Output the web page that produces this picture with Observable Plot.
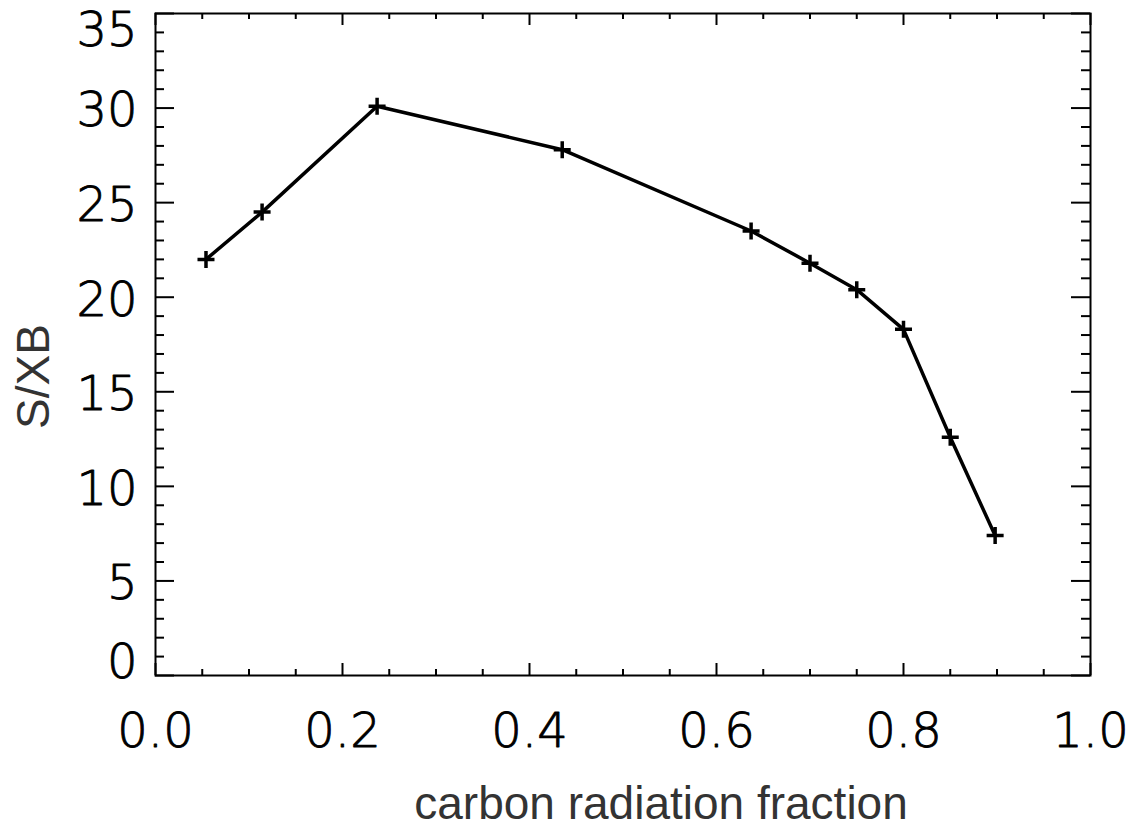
<!DOCTYPE html>
<html><head><meta charset="utf-8">
<script src="https://cdn.jsdelivr.net/npm/d3@7"></script>
<script src="https://cdn.jsdelivr.net/npm/@observablehq/plot@0.6"></script>
<style>body{margin:0;background:#fff;}</style>
</head><body><div id="chart"></div>
<script>
const fraction = [0.054, 0.114, 0.237, 0.435, 0.637, 0.700, 0.750, 0.800, 0.850, 0.898];
const sxb = [22.0, 24.5, 30.1, 27.8, 23.5, 21.8, 20.4, 18.3, 12.6, 7.4];
const xMajor = [0, 0.2, 0.4, 0.6, 0.8, 1.0];
const xMinor = [0.05, 0.1, 0.15, 0.25, 0.3, 0.35, 0.45, 0.5, 0.55, 0.65, 0.7, 0.75, 0.85, 0.9, 0.95];
const yMajor = [0, 5, 10, 15, 20, 25, 30, 35];
const yMinor = [1,2,3,4,6,7,8,9,11,12,13,14,16,17,18,19,21,22,23,24,26,27,28,29,31,32,33,34];
const xTitle = "carbon radiation fraction";
const yTitle = "S/XB";

const data = fraction.map((x, i) => ({x, y: sxb[i]}));
const plusSymbol = {draw(ctx, size) {
  const r = Math.sqrt(size / Math.PI);
  ctx.moveTo(-r, 0); ctx.lineTo(r, 0);
  ctx.moveTo(0, -r); ctx.lineTo(0, r);
}};

const W = 1134, H = 829, ML = 155, MR = 44, MT = 13, MB = 154;
const FW = W - ML - MR, FH = H - MT - MB;
const tk = {stroke: "#000", strokeWidth: 2};
const lab = {tickSize: 0, fontSize: 48, fontWeight: 200, textStroke: "#000", textStrokeWidth: 0.9, label: null, fill: "#000"};
const yMid = yMajor.slice(1, -1), yLow = yMajor.slice(0, 1), yTop = yMajor.slice(-1);

const plot = Plot.plot({
  width: W, height: H, marginLeft: ML, marginRight: MR, marginTop: MT, marginBottom: MB,
  style: {background: "#fff", fontFamily: "DejaVu Sans", color: "#000"},
  x: {domain: [0, 1]},
  y: {domain: [0, 35]},
  marks: [
    Plot.tickX(xMinor, {x: d => d, insetTop: FH - 6, ...tk}),
    Plot.tickX(xMajor, {x: d => d, insetTop: FH - 12, ...tk}),
    Plot.tickX(xMinor, {x: d => d, insetBottom: FH - 6, ...tk}),
    Plot.tickX(xMajor, {x: d => d, insetBottom: FH - 12, ...tk}),
    Plot.tickY(yMinor, {y: d => d, insetRight: FW - 9, ...tk}),
    Plot.tickY(yMajor, {y: d => d, insetRight: FW - 19, ...tk}),
    Plot.tickY(yMinor, {y: d => d, insetLeft: FW - 9, ...tk}),
    Plot.tickY(yMajor, {y: d => d, insetLeft: FW - 19, ...tk}),
    Plot.frame({stroke: "#000", strokeWidth: 2}),
    Plot.axisX(xMajor, {...lab, tickPadding: 37, tickFormat: d3.format(".1f")}),
    Plot.axisY(yMid, {...lab, tickPadding: 18, dy: 3}),
    Plot.axisY(yLow, {...lab, tickPadding: 18, dy: -13}),
    Plot.axisY(yTop, {...lab, tickPadding: 18, dy: 17}),
    Plot.line(data, {x: "x", y: "y", stroke: "#000", strokeWidth: 3.5}),
    Plot.dot(data, {x: "x", y: "y", symbol: plusSymbol, r: 8.5, stroke: "#000", fill: "none", strokeWidth: 3.5}),
    Plot.text([xTitle], {text: d => d, frameAnchor: "bottom", textAnchor: "middle", lineAnchor: "middle", dx: 38, dy: 129, fontSize: 46, fontFamily: "Liberation Sans", fill: "#333"}),
    Plot.text([yTitle], {text: d => d, frameAnchor: "left", textAnchor: "middle", lineAnchor: "middle", rotate: -90, dx: -121, dy: 32, fontSize: 46, fontFamily: "Liberation Sans", fill: "#333"})
  ]
});
document.getElementById("chart").appendChild(plot);
</script>
</body></html>
